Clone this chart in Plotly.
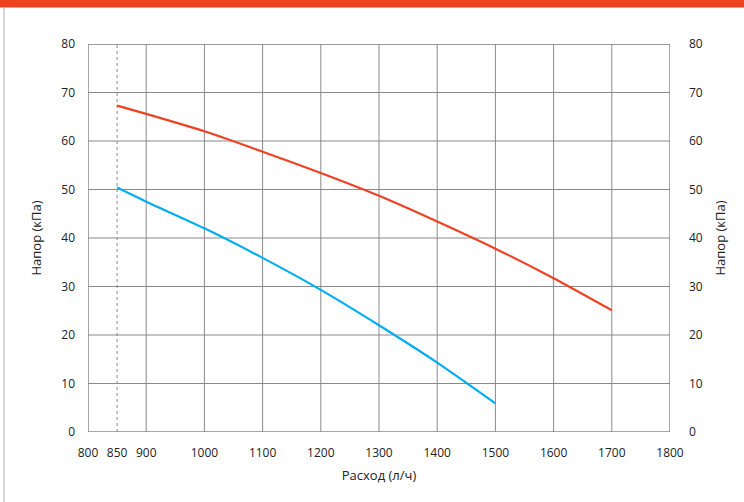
import plotly.graph_objects as go

flow = [850, 900, 1000, 1100, 1200, 1300, 1400, 1500, 1600, 1700]
head_red = [67.3, 65.6, 62.0, 57.8, 53.4, 48.7, 43.4, 37.8, 31.7, 25.1]
flow_blue = [850, 900, 1000, 1100, 1200, 1300, 1400, 1500]
head_blue = [50.4, 47.5, 42.0, 35.9, 29.3, 22.0, 14.3, 5.9]

x_ticks = [800, 850, 900, 1000, 1100, 1200, 1300, 1400, 1500, 1600, 1700, 1800]
y_ticks = [0, 10, 20, 30, 40, 50, 60, 70, 80]
grid_x = [900, 1000, 1100, 1200, 1300, 1400, 1500, 1600, 1700]
dashed_x = 850

RED = "#F04223"
BLUE = "#00AEEF"
GRID = "#8a8a8a"
FONT = "Open Sans, Liberation Sans, sans-serif"

W, H = 744, 502
L, R, T, B = 88, 74, 44, 70
pw, ph = W - L - R, H - T - B

fig = go.Figure()
fig.add_trace(go.Scatter(x=flow, y=head_red, mode="lines", line=dict(color=RED, width=2.2),
                         line_shape="spline", line_smoothing=0.6, showlegend=False))
fig.add_trace(go.Scatter(x=flow_blue, y=head_blue, mode="lines", line=dict(color=BLUE, width=2.2),
                         line_shape="spline", line_smoothing=0.6, showlegend=False))
# invisible trace for right axis
fig.add_trace(go.Scatter(x=[800], y=[0], yaxis="y2", mode="markers", marker=dict(opacity=0),
                         showlegend=False, hoverinfo="skip"))

shapes = []
for gx in grid_x:
    shapes.append(dict(type="line", xref="x", yref="y", x0=gx, x1=gx, y0=0, y1=80,
                       line=dict(color=GRID, width=1), layer="below"))
shapes.append(dict(type="line", xref="x", yref="y", x0=dashed_x, x1=dashed_x, y0=0, y1=80,
                   line=dict(color=GRID, width=1, dash="3px,3px"), layer="below"))
for gy in y_ticks[1:]:
    shapes.append(dict(type="line", xref="x", yref="y", x0=800, x1=1800, y0=gy, y1=gy,
                       line=dict(color=GRID, width=1), layer="below"))
# plot frame
shapes.append(dict(type="rect", xref="x", yref="y", x0=800, x1=1800, y0=0, y1=80,
                   line=dict(color=GRID, width=1.5), layer="below"))
# orange top bar
shapes.append(dict(type="rect", xref="paper", yref="paper",
                   x0=(0 - L) / pw, x1=(W - L) / pw,
                   y0=1 + (T - 7.5) / ph, y1=1 + (T + 2) / ph,
                   fillcolor=RED, line=dict(width=0)))
# left gray border
shapes.append(dict(type="line", xref="paper", yref="paper",
                   x0=(4 - L) / pw, x1=(4 - L) / pw,
                   y0=1 + (T - 7) / ph, y1=-B / ph,
                   line=dict(color="#c8c8c8", width=1.5)))

fig.update_layout(
    width=W, height=H,
    margin=dict(l=L, r=R, t=T, b=B),
    paper_bgcolor="white", plot_bgcolor="white",
    font=dict(family=FONT, size=12, color="#222"),
    shapes=shapes,
    xaxis=dict(range=[800, 1800], tickvals=x_ticks, ticktext=[str(v) for v in x_ticks],
               showgrid=False, zeroline=False, showline=False, ticks="",
               ticklabelstandoff=12,
               title=dict(text="Расход (л/ч)", font=dict(size=13), standoff=10)),
    yaxis=dict(range=[0, 80], tickvals=y_ticks, showgrid=False, zeroline=False,
               showline=False, ticks="", ticklabelstandoff=12,
               title=dict(text="Напор (кПа)", font=dict(size=13), standoff=16)),
    yaxis2=dict(range=[0, 80], tickvals=y_ticks, overlaying="y", side="right",
                showgrid=False, zeroline=False, showline=False, ticks="",
                ticklabelstandoff=18,
                title=dict(text="Напор (кПа)", font=dict(size=13), standoff=14)),
)

fig.write_html("out.html", config={"displayModeBar": False},
               post_script="document.body.style.margin='0';")
